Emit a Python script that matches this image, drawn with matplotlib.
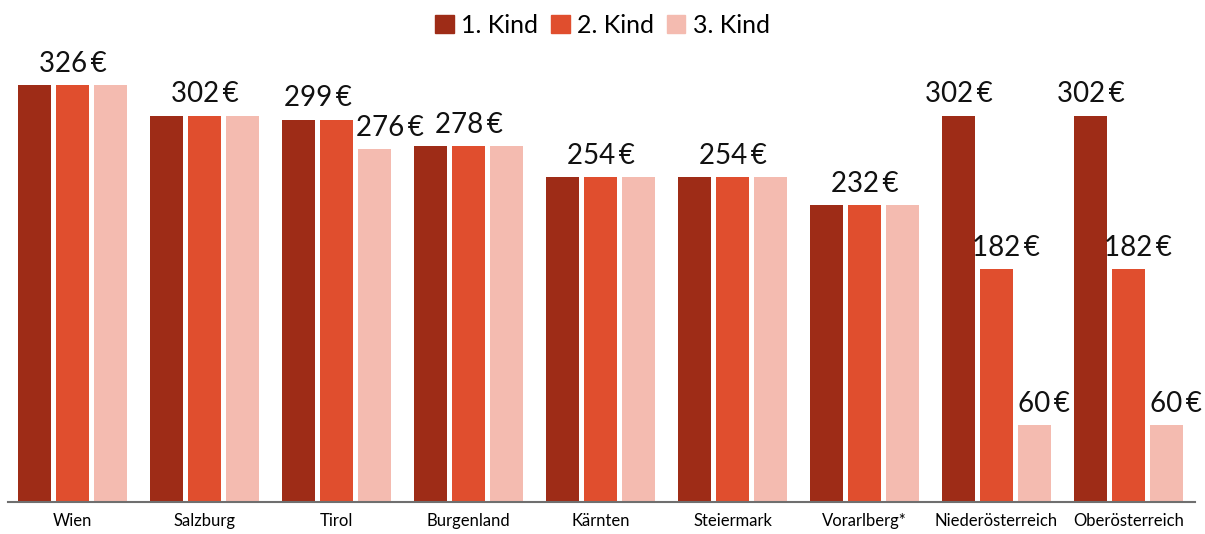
import numpy as np
import matplotlib.pyplot as plt
from matplotlib.patches import Patch

plt.rcParams['font.family'] = ['Lato', 'DejaVu Sans']

# Daten
laender = ['Wien', 'Salzburg', 'Tirol', 'Burgenland', 'Kärnten', 'Steiermark',
           'Vorarlberg*', 'Niederösterreich', 'Oberösterreich']
kind1 = [326, 302, 299, 278, 254, 254, 232, 302, 302]
kind2 = [326, 302, 299, 278, 254, 254, 232, 182, 182]
kind3 = [326, 302, 276, 278, 254, 254, 232, 60, 60]
serien = ['1. Kind', '2. Kind', '3. Kind']
farben = ['#9E2C17', '#E04E2E', '#F4BBB0']

fig = plt.figure(figsize=(12.05, 5.34), dpi=100)
ax = fig.add_axes([8 / 1205, 32 / 534, 1187 / 1205, 502 / 534])

x = np.arange(len(laender))
w = 0.25
step = 0.288
werte = [kind1, kind2, kind3]
for i, (v, c) in enumerate(zip(werte, farben)):
    ax.bar(x + (i - 1) * step, v, width=w, color=c, label=serien[i])

def label(xpos, y, dx=0):
    ax.annotate(f'{y}\u2009€', (xpos, y), xytext=(dx, 6), textcoords='offset points',
                ha='center', va='bottom', fontsize=20, color='#111111')

# Beschriftungen
for g in range(len(laender)):
    a, b, c3 = kind1[g], kind2[g], kind3[g]
    if a == b == c3:
        label(x[g], a)
    elif a == b:
        label(x[g] - step / 2, a)
        label(x[g] + step, c3, dx=11)
    else:
        label(x[g] - step, a)
        label(x[g], b, dx=7)
        label(x[g] + step, c3, dx=7)

ax.set_xlim(-0.489, 8.504)
ax.set_ylim(0, 392.5)
ax.set_xticks(x)
ax.set_xticklabels(laender, fontsize=12)
ax.tick_params(axis='x', length=0, pad=8)
ax.set_yticks([])
for s in ['top', 'right', 'left']:
    ax.spines[s].set_visible(False)
ax.spines['bottom'].set_color('#6f6f6f')
ax.spines['bottom'].set_linewidth(1.5)

handles = [Patch(color=c, label=s) for c, s in zip(farben, serien)]
fig.legend(handles=handles, loc='upper center', bbox_to_anchor=(0.5, 0.993), ncol=3,
           frameon=False, fontsize=18, handlelength=0.75, handleheight=0.75,
           handletextpad=0.3, columnspacing=0.5, borderaxespad=0.0)

fig.savefig('out.png', dpi=100)
